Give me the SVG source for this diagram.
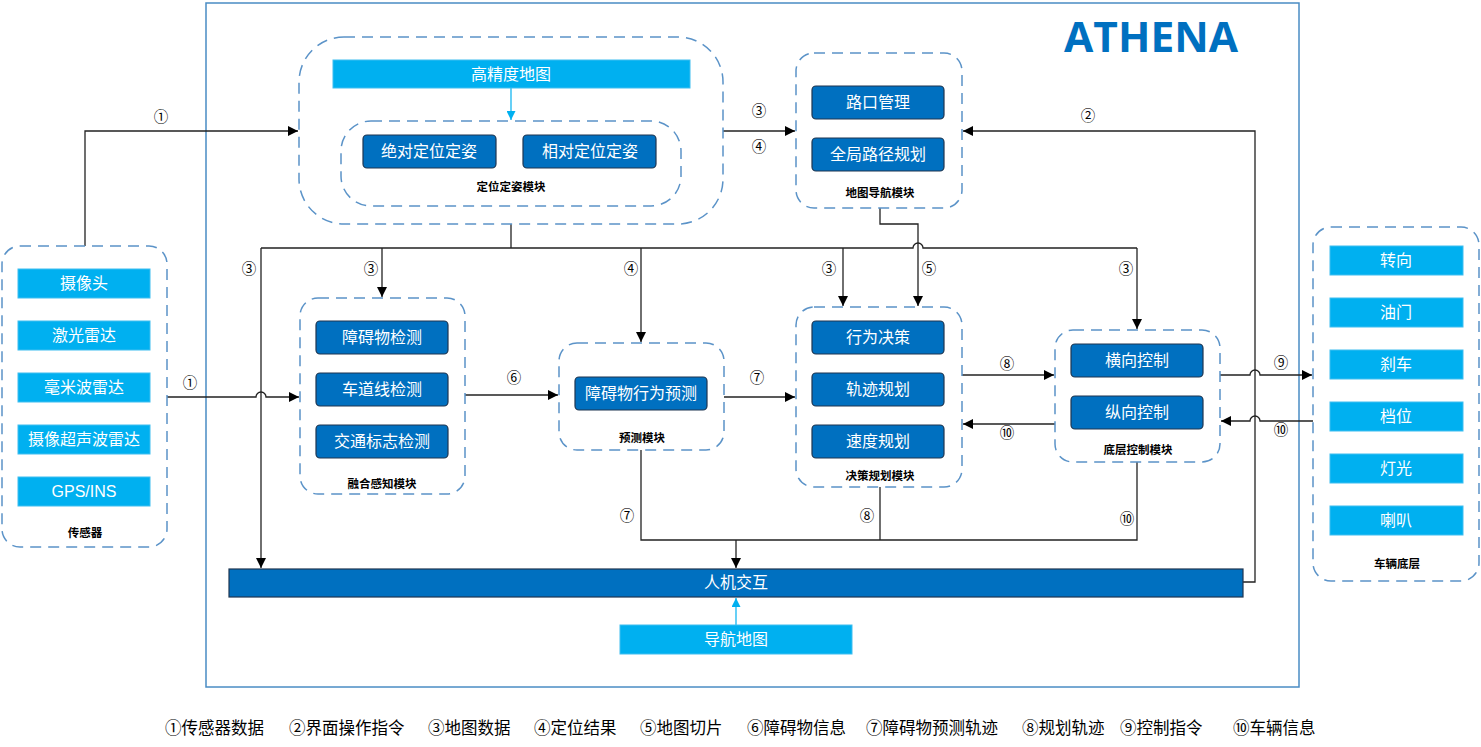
<svg xmlns="http://www.w3.org/2000/svg" width="1481" height="747" viewBox="0 0 1481 747">
<defs>
<marker id="ah" viewBox="0 0 10 10" refX="10" refY="5" markerWidth="10" markerHeight="10" markerUnits="userSpaceOnUse" orient="auto"><path d="M0,0 L10,5 L0,10 z" fill="#000"/></marker>
<marker id="ahb" viewBox="0 0 10 10" refX="10" refY="5" markerWidth="9" markerHeight="9" markerUnits="userSpaceOnUse" orient="auto"><path d="M0,0 L10,5 L0,10 z" fill="#00b0f0"/></marker>
</defs>
<style>
text{font-family:"Liberation Sans","Noto Sans CJK SC",sans-serif;}
.grp{fill:none;stroke:#5b93c8;stroke-width:1.5;stroke-dasharray:11 7;}
.btn{fill:#0070c0;stroke:#1e3550;stroke-width:1.2;}
.lb{fill:#00b0f0;stroke:#3fbef0;stroke-width:1;}
.bt{fill:#fff;font-size:16px;text-anchor:middle;dominant-baseline:central;}
.gl{fill:#000;font-size:11.5px;font-weight:bold;text-anchor:middle;dominant-baseline:central;}
.ln{fill:none;stroke:#222;stroke-width:1.3;}
.num{fill:#000;font-size:14.5px;text-anchor:middle;dominant-baseline:central;}
.lg{fill:#000;font-size:16.5px;}
</style>
<rect width="1481" height="747" fill="#fff"/>
<rect x="206" y="3" width="1093" height="684" fill="none" stroke="#4a8cc4" stroke-width="1.5"/>
<text x="1064" y="52" font-size="42" font-weight="bold" fill="#0070c0" style="font-family:'Open Sans','Liberation Sans',sans-serif" textLength="174" lengthAdjust="spacingAndGlyphs">ATHENA</text>

<g id="connectors">
<path class="ln" d="M85,246 V131 H298" marker-end="url(#ah)"/>
<path class="ln" d="M167,397 H256 A5,5 0 0 1 266,397 H299" marker-end="url(#ah)"/>
<path class="ln" d="M511,224 V248"/>
<path class="ln" d="M261,248 H913 A5,5 0 0 1 923,248 H1137"/>
<path class="ln" d="M261,248 V568" marker-end="url(#ah)"/>
<path class="ln" d="M382,248 V297" marker-end="url(#ah)"/>
<path class="ln" d="M641,248 V342" marker-end="url(#ah)"/>
<path class="ln" d="M843,248 V306" marker-end="url(#ah)"/>
<path class="ln" d="M1137,248 V329" marker-end="url(#ah)"/>
<path class="ln" d="M880,208 V224 H918 V306" marker-end="url(#ah)"/>
<path class="ln" d="M723,131 H795" marker-end="url(#ah)"/>
<path class="ln" d="M1243,582 H1255 V131 H963" marker-end="url(#ah)"/>
<path class="ln" d="M465,395 H558" marker-end="url(#ah)"/>
<path class="ln" d="M724,397 H795" marker-end="url(#ah)"/>
<path class="ln" d="M962,375 H1054" marker-end="url(#ah)"/>
<path class="ln" d="M1055,424 H963" marker-end="url(#ah)"/>
<path class="ln" d="M1220,375 H1250 A5,5 0 0 1 1260,375 H1312" marker-end="url(#ah)"/>
<path class="ln" d="M1313,421 H1260 A5,5 0 0 0 1250,421 H1221" marker-end="url(#ah)"/>
<path class="ln" d="M641,450 V540 H1137 V462"/>
<path class="ln" d="M880,487 V540"/>
<path class="ln" d="M736,540 V568" marker-end="url(#ah)"/>
<path d="M511,88 V120" stroke="#00b0f0" stroke-width="1.2" fill="none" marker-end="url(#ahb)"/>
<path d="M736,625 V598" stroke="#00b0f0" stroke-width="1.2" fill="none" marker-end="url(#ahb)"/>
<text class="num" x="161" y="117">①</text>
<text class="num" x="190" y="383">①</text>
<text class="num" x="249" y="269">③</text>
<text class="num" x="371" y="269">③</text>
<text class="num" x="631" y="269">④</text>
<text class="num" x="829" y="269">③</text>
<text class="num" x="929" y="269">⑤</text>
<text class="num" x="1126" y="269">③</text>
<text class="num" x="759" y="111">③</text>
<text class="num" x="759" y="147">④</text>
<text class="num" x="1088" y="116">②</text>
<text class="num" x="514" y="378">⑥</text>
<text class="num" x="757" y="378">⑦</text>
<text class="num" x="1007" y="364">⑧</text>
<text class="num" x="1007" y="433">⑩</text>
<text class="num" x="1281" y="363">⑨</text>
<text class="num" x="1281" y="430">⑩</text>
<text class="num" x="627" y="516">⑦</text>
<text class="num" x="867" y="516">⑧</text>
<text class="num" x="1127" y="519">⑩</text>
</g>

<g id="localization">
<rect class="grp" x="299" y="37" width="424" height="187" rx="45"/>
<rect class="lb" x="333" y="60" width="357" height="28"/>
<text class="bt" x="511" y="74">高精度地图</text>
<rect class="grp" x="341" y="121" width="340" height="85" rx="30"/>
<rect class="btn" x="363" y="135" width="133" height="33" rx="4"/>
<text class="bt" x="429" y="151">绝对定位定姿</text>
<rect class="btn" x="523" y="135" width="133" height="33" rx="4"/>
<text class="bt" x="590" y="151">相对定位定姿</text>
<text class="gl" x="511" y="187">定位定姿模块</text>
</g>

<g id="map-nav">
<rect class="grp" x="796" y="53" width="166" height="155" rx="18"/>
<rect class="btn" x="812" y="86" width="132" height="33" rx="4"/>
<text class="bt" x="878" y="102">路口管理</text>
<rect class="btn" x="812" y="138" width="132" height="33" rx="4"/>
<text class="bt" x="878" y="154">全局路径规划</text>
<text class="gl" x="880" y="193">地图导航模块</text>
</g>

<g id="sensors">
<rect class="grp" x="2" y="246" width="165" height="301" rx="18"/>
<rect class="lb" x="18" y="269" width="132" height="29"/>
<text class="bt" x="84" y="283">摄像头</text>
<rect class="lb" x="18" y="321" width="132" height="29"/>
<text class="bt" x="84" y="335">激光雷达</text>
<rect class="lb" x="18" y="373" width="132" height="29"/>
<text class="bt" x="84" y="387">毫米波雷达</text>
<rect class="lb" x="18" y="425" width="132" height="29"/>
<text class="bt" x="84" y="439">摄像超声波雷达</text>
<rect class="lb" x="18" y="477" width="132" height="29"/>
<text class="bt" x="84" y="491">GPS/INS</text>
<text class="gl" x="85" y="533">传感器</text>
</g>

<g id="fusion">
<rect class="grp" x="300" y="298" width="165" height="196" rx="18"/>
<rect class="btn" x="316" y="321" width="132" height="33" rx="4"/>
<text class="bt" x="382" y="337">障碍物检测</text>
<rect class="btn" x="316" y="373" width="132" height="33" rx="4"/>
<text class="bt" x="382" y="389">车道线检测</text>
<rect class="btn" x="316" y="425" width="132" height="33" rx="4"/>
<text class="bt" x="382" y="441">交通标志检测</text>
<text class="gl" x="382" y="484">融合感知模块</text>
</g>

<g id="prediction">
<rect class="grp" x="559" y="343" width="165" height="107" rx="18"/>
<rect class="btn" x="575" y="377" width="132" height="33" rx="4"/>
<text class="bt" x="641" y="393">障碍物行为预测</text>
<text class="gl" x="642" y="438">预测模块</text>
</g>

<g id="decision">
<rect class="grp" x="796" y="307" width="166" height="180" rx="18"/>
<rect class="btn" x="812" y="321" width="132" height="33" rx="4"/>
<text class="bt" x="878" y="337">行为决策</text>
<rect class="btn" x="812" y="373" width="132" height="33" rx="4"/>
<text class="bt" x="878" y="389">轨迹规划</text>
<rect class="btn" x="812" y="425" width="132" height="33" rx="4"/>
<text class="bt" x="878" y="441">速度规划</text>
<text class="gl" x="880" y="476">决策规划模块</text>
</g>

<g id="control">
<rect class="grp" x="1055" y="330" width="165" height="132" rx="18"/>
<rect class="btn" x="1071" y="344" width="132" height="33" rx="4"/>
<text class="bt" x="1137" y="360">横向控制</text>
<rect class="btn" x="1071" y="396" width="132" height="33" rx="4"/>
<text class="bt" x="1137" y="412">纵向控制</text>
<text class="gl" x="1138" y="450">底层控制模块</text>
</g>

<g id="vehicle">
<rect class="grp" x="1313" y="227" width="166" height="354" rx="18"/>
<rect class="lb" x="1330" y="246" width="133" height="29"/>
<text class="bt" x="1396" y="260">转向</text>
<rect class="lb" x="1330" y="298" width="133" height="29"/>
<text class="bt" x="1396" y="312">油门</text>
<rect class="lb" x="1330" y="350" width="133" height="29"/>
<text class="bt" x="1396" y="364">刹车</text>
<rect class="lb" x="1330" y="402" width="133" height="29"/>
<text class="bt" x="1396" y="416">档位</text>
<rect class="lb" x="1330" y="454" width="133" height="29"/>
<text class="bt" x="1396" y="468">灯光</text>
<rect class="lb" x="1330" y="506" width="133" height="29"/>
<text class="bt" x="1396" y="520">喇叭</text>
<text class="gl" x="1397" y="564">车辆底层</text>
</g>

<g id="hmi">
<rect class="btn" x="229" y="569" width="1014" height="28"/>
<text class="bt" x="736" y="582">人机交互</text>
</g>

<g id="nav-map">
<rect class="lb" x="620" y="625" width="232" height="29"/>
<text class="bt" x="736" y="639">导航地图</text>
</g>

<g id="legend">
<text class="lg" x="165" y="734">①传感器数据</text>
<text class="lg" x="289" y="734">②界面操作指令</text>
<text class="lg" x="428" y="734">③地图数据</text>
<text class="lg" x="534" y="734">④定位结果</text>
<text class="lg" x="640" y="734">⑤地图切片</text>
<text class="lg" x="747" y="734">⑥障碍物信息</text>
<text class="lg" x="866" y="734">⑦障碍物预测轨迹</text>
<text class="lg" x="1022" y="734">⑧规划轨迹</text>
<text class="lg" x="1120" y="734">⑨控制指令</text>
<text class="lg" x="1233" y="734">⑩车辆信息</text>
</g>
</svg>
